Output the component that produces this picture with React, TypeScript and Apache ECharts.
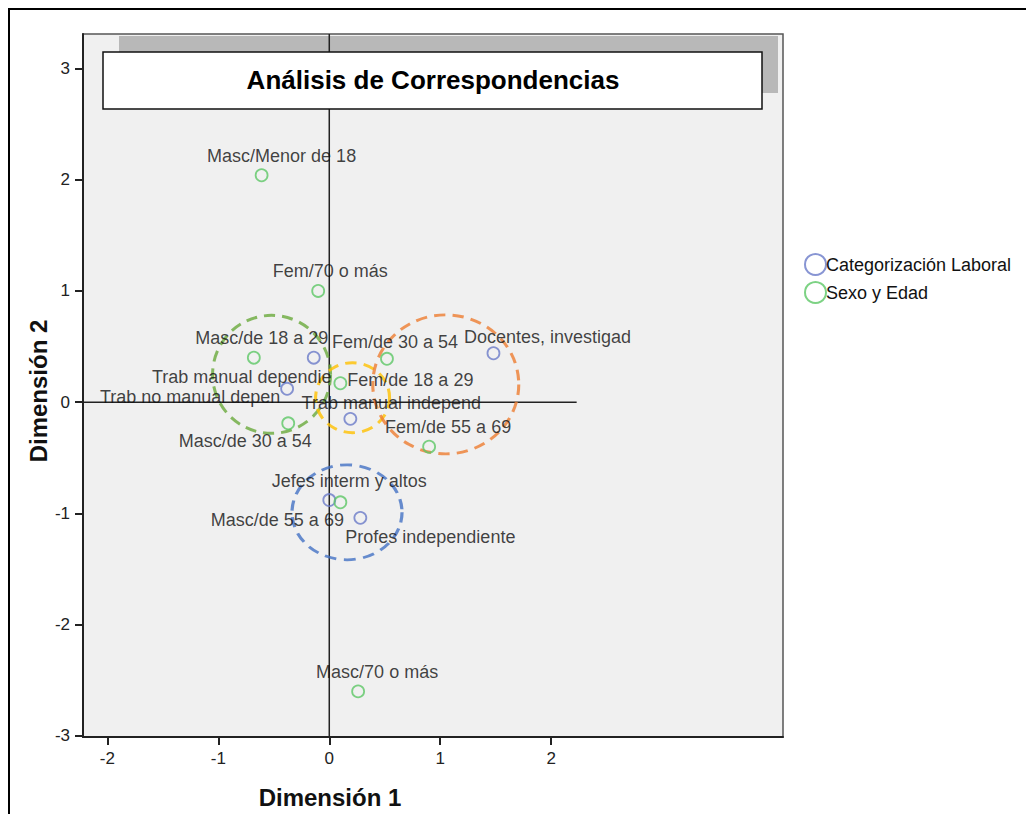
import React, { useEffect, useRef } from "react";
import * as echarts from "echarts";

const titleText = "Análisis de Correspondencias";
const xName = "Dimensión 1";
const yName = "Dimensión 2";
const dim1Ticks = [-2, -1, 0, 1, 2];
const dim2Ticks = [-3, -2, -1, 0, 1, 2, 3];

const catLabName = "Categorización Laboral";
const catLabNames = [
  "Docentes, investigad",
  "Trab manual dependie",
  "Trab no manual depen",
  "Trab manual independ",
  "Jefes interm y altos",
  "Profes independiente",
];
const catLabDim1 = [1.48, -0.14, -0.38, 0.19, 0.0, 0.28];
const catLabDim2 = [0.44, 0.4, 0.12, -0.15, -0.88, -1.04];

const sexEdadName = "Sexo y Edad";
const sexEdadNames = [
  "Masc/Menor de 18",
  "Fem/70 o más",
  "Masc/de 18 a 29",
  "Fem/de 30 a 54",
  "Fem/de 18 a 29",
  "Masc/de 30 a 54",
  "Fem/de 55 a 69",
  "Masc/de 55 a 69",
  "Masc/70 o más",
];
const sexEdadDim1 = [-0.61, -0.1, -0.68, 0.52, 0.1, -0.37, 0.9, 0.1, 0.26];
const sexEdadDim2 = [2.04, 1.0, 0.4, 0.39, 0.17, -0.19, -0.4, -0.9, -2.6];

// group highlight circles (centres in data units)
const groupCircleDim1 = [-0.52, 0.21, 1.05, 0.16];
const groupCircleDim2 = [0.25, 0.04, 0.16, -0.99];

// label offsets in pixels (layout only)
const catLabLabelOffsets = [
  [54, -16],
  [-72, 19],
  [-97, 8],
  [41, -16],
  [20, -19],
  [70, 19],
];
const sexEdadLabelOffsets = [
  [20, -19],
  [12, -20],
  [8, -20],
  [8, -17],
  [70, -3],
  [-43, 18],
  [19, -20],
  [-63, 18],
  [19, -19],
];
const groupCircleColors = ["#6aaa3c", "#ffc000", "#ed7d31", "#4472c4"];
const groupCircleSizes = [
  [118, 118],
  [74, 70],
  [146, 139],
  [110, 95],
];

const FONT = "'Liberation Sans', Arial, sans-serif";
const X_MIN = -2.22;
const X_MAX = 4.09;
const Y_MIN = -3.01;
const Y_MAX = 3.31;

export default function App() {
  const ref = useRef<HTMLDivElement>(null);
  useEffect(() => {
    if (!ref.current) return;
    const chart = echarts.init(ref.current, undefined, { renderer: "svg" });

    const mkPoints = (names: string[], d1: number[], d2: number[], offs: number[][]) =>
      names.map((n, i) => ({
        name: n,
        value: [d1[i], d2[i]],
        label: { offset: offs[i] },
      }));

    const pointLabel = {
      show: true,
      formatter: "{b}",
      position: "inside",
      align: "center",
      verticalAlign: "middle",
      fontFamily: FONT,
      fontSize: 18,
      color: "#111",
    };

    const option: any = {
      animation: false,
      backgroundColor: "#ffffff",
      textStyle: { fontFamily: FONT },
      grid: {
        left: 83,
        top: 34,
        width: 700,
        height: 703,
        show: true,
        backgroundColor: "#f0f0f0",
        borderColor: "#555555",
        borderWidth: 1.5,
      },
      xAxis: {
        type: "value",
        min: X_MIN,
        max: X_MAX,
        axisLine: { onZero: false, lineStyle: { color: "#222", width: 2 } },
        axisTick: { show: true, customValues: dim1Ticks, length: 8, lineStyle: { color: "#222", width: 2 } },
        axisLabel: { customValues: dim1Ticks, fontSize: 17, color: "#222", margin: 13, fontFamily: FONT },
        splitLine: { show: false },
      },
      yAxis: {
        type: "value",
        min: Y_MIN,
        max: Y_MAX,
        axisLine: { onZero: false, lineStyle: { color: "#222", width: 2 } },
        axisTick: { show: true, customValues: dim2Ticks, length: 8, lineStyle: { color: "#222", width: 2 } },
        axisLabel: { customValues: dim2Ticks, fontSize: 17, color: "#222", margin: 13, fontFamily: FONT },
        splitLine: { show: false },
      },
      legend: {
        orient: "vertical",
        left: 799,
        top: 248,
        itemWidth: 21,
        itemHeight: 21,
        itemGap: 5,
        icon: "circle",
        data: [catLabName, sexEdadName],
        textStyle: { fontFamily: FONT, fontSize: 18, color: "#111", padding: [0, 0, 0, -5] },
      },
      graphic: [
        {
          type: "rect",
          z: 1,
          shape: { x: 119, y: 36, width: 659, height: 57 },
          style: { fill: "#b8b8b8" },
        },
        {
          type: "rect",
          z: 100,
          shape: { x: 103, y: 52, width: 659, height: 57 },
          style: { fill: "#ffffff", stroke: "#111", lineWidth: 1.5 },
        },
        {
          type: "text",
          z: 101,
          x: 433,
          y: 80,
          style: {
            text: titleText,
            fontFamily: FONT,
            fontSize: 26,
            fontWeight: "bold",
            fill: "#000",
            align: "center",
            verticalAlign: "middle",
          },
        },
        {
          type: "text",
          z: 101,
          x: 330,
          y: 797,
          style: {
            text: xName,
            fontFamily: FONT,
            fontSize: 24,
            fontWeight: "bold",
            fill: "#111",
            align: "center",
            verticalAlign: "middle",
          },
        },
        {
          type: "text",
          z: 101,
          x: 38,
          y: 391,
          rotation: Math.PI / 2,
          style: {
            text: yName,
            fontFamily: FONT,
            fontSize: 24,
            fontWeight: "bold",
            fill: "#111",
            align: "center",
            verticalAlign: "middle",
          },
        },
        {
          type: "rect",
          z: 200,
          shape: { x: 9, y: 9, width: 1100, height: 900 },
          style: { fill: "none", stroke: "#000", lineWidth: 2 },
        },
      ],
      series: [
        {
          type: "line",
          silent: true,
          symbol: "none",
          z: 3,
          lineStyle: { color: "#222", width: 1.5 },
          data: [
            [X_MIN, 0],
            [2.23, 0],
          ],
        },
        {
          type: "line",
          silent: true,
          symbol: "none",
          z: 3,
          lineStyle: { color: "#222", width: 1.5 },
          data: [
            [0, Y_MIN],
            [0, Y_MAX],
          ],
        },
        {
          type: "scatter",
          silent: true,
          z: 4,
          data: groupCircleDim1.map((v, i) => ({
            value: [v, groupCircleDim2[i]],
            symbolSize: groupCircleSizes[i],
            itemStyle: {
              color: "rgba(0,0,0,0)",
              borderColor: groupCircleColors[i],
              borderWidth: 3,
              borderType: [11, 7],
            },
          })),
        },
        {
          name: catLabName,
          type: "scatter",
          symbol: "circle",
          symbolSize: 12,
          z: 5,
          itemStyle: { color: "rgba(0,0,0,0)", borderColor: "#6a7bc8", borderWidth: 1.8 },
          label: pointLabel,
          data: mkPoints(catLabNames, catLabDim1, catLabDim2, catLabLabelOffsets),
        },
        {
          name: sexEdadName,
          type: "scatter",
          symbol: "circle",
          symbolSize: 12,
          z: 5,
          itemStyle: { color: "rgba(0,0,0,0)", borderColor: "#5cc765", borderWidth: 1.8 },
          label: pointLabel,
          data: mkPoints(sexEdadNames, sexEdadDim1, sexEdadDim2, sexEdadLabelOffsets),
        },
      ],
    };
    chart.setOption(option);
    return () => chart.dispose();
  }, []);
  return (
    <div
      ref={ref}
      style={{ position: "fixed", left: 0, top: 0, width: 1026, height: 814, background: "#fff" }}
    />
  );
}
